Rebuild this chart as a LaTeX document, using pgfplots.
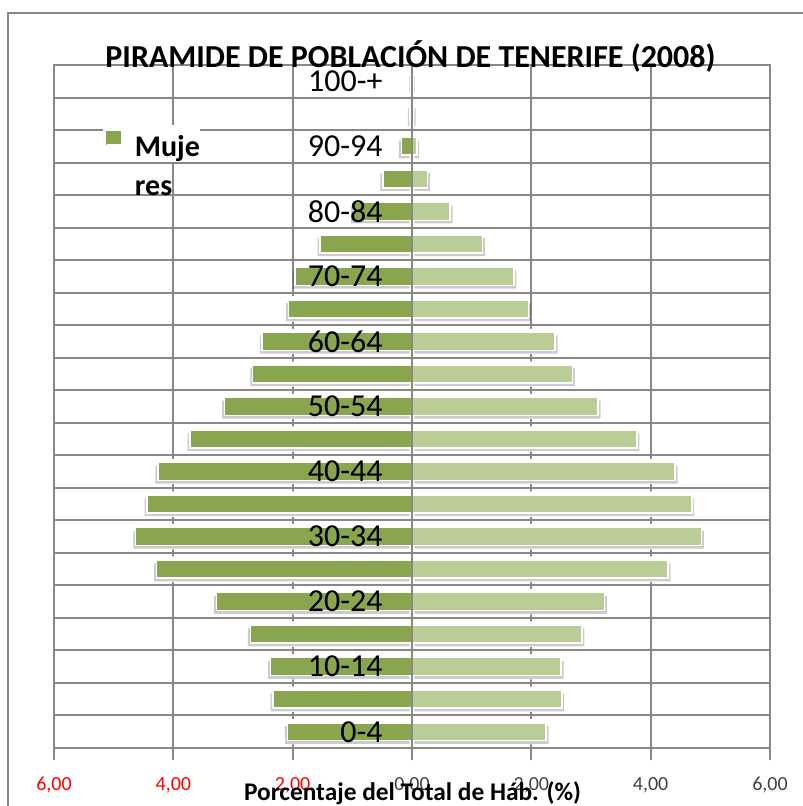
\documentclass[border=0pt]{standalone}
\usepackage{pgfplots}
\pgfplotsset{compat=1.18}
\usepackage{pgfplotstable}
\usepackage{fontspec}
\setmainfont{Carlito}
\definecolor{muj}{RGB}{137,165,78}
\definecolor{hom}{RGB}{186,205,150}
\definecolor{gridc}{RGB}{136,136,136}

\pgfplotstableread{
age muj hom
0 -2.09 2.25
1 -2.33 2.51
2 -2.37 2.50
3 -2.71 2.85
4 -3.28 3.23
5 -4.28 4.29
6 -4.63 4.85
7 -4.44 4.69
8 -4.26 4.41
9 -3.72 3.77
10 -3.14 3.12
11 -2.67 2.69
12 -2.51 2.40
13 -2.07 1.95
14 -1.96 1.71
15 -1.54 1.18
16 -0.98 0.64
17 -0.49 0.26
18 -0.18 0.08
19 -0.03 0.02
20 -0.01 0.01
}\pyr

\begin{document}
\begin{tikzpicture}
\useasboundingbox (0,0) rectangle (401pt,403pt);
\draw[gridc, line width=1.25pt] (4pt,-2pt) -- (4pt,396.5pt) -- (403pt,396.5pt);
\begin{axis}[
  at={(27pt,29pt)}, anchor=south west,
  scale only axis, width=358pt, height=341.5pt,
  xmin=-6, xmax=6, ymin=-0.5, ymax=20.5,
  xtick={-6,-4,...,6},
  xticklabels={{\textcolor{red}{6,00}},{\textcolor{red}{4,00}},{\textcolor{red}{2,00}},{0,00},{2,00},{4,00},{6,00}},
  ytick={-0.5,0.5,...,20.5}, yticklabels={},
  xmajorgrids, ymajorgrids,
  grid style={gridc, line width=1pt},
  axis line style={gridc, line width=1pt},
  xtick pos=bottom,
  tick align=outside,
  major tick length=6pt,
  x tick style={gridc, line width=1pt},
  y tick style={draw=none},
  xticklabel style={font=\fontsize{10}{12}\selectfont, text=black!75, yshift=-5pt},
  legend cell align=left,
  legend style={at={(0.0726,0.912)}, anchor=north west, draw=none, fill=none,
    inner sep=0pt, font=\fontsize{15}{19.5}\selectfont\bfseries},
]
% halo (hides vertical grid behind bars)
\addplot[xbar, bar shift=0pt, bar width=0.78, fill=white, draw=none, forget plot] table[x=muj, y=age]{\pyr};
\addplot[xbar, bar shift=0pt, bar width=0.78, fill=white, draw=none, forget plot] table[x=hom, y=age]{\pyr};
% shadows
\addplot[xbar, bar shift=-1.6pt, bar width=0.55, fill=black, fill opacity=0.2, draw=none, xshift=-1.2pt, forget plot] table[x=muj, y=age]{\pyr};
\addplot[xbar, bar shift=-1.6pt, bar width=0.55, fill=black, fill opacity=0.2, draw=none, xshift=1.2pt, forget plot] table[x=hom, y=age]{\pyr};
% bars
\addplot[xbar, bar shift=0pt, bar width=0.55, fill=hom, draw=white, line width=0.75pt, forget plot] table[x=hom, y=age]{\pyr};
\addplot[xbar, bar shift=0pt, bar width=0.55, fill=muj, draw=white, line width=0.75pt,
  legend image code/.code={\fill[muj] (0pt,0pt) rectangle (6.5pt,6.5pt); \path (0pt,0pt) -- (11.5pt,0pt);}] table[x=muj, y=age]{\pyr};
\addlegendentry{\begin{tabular}[t]{@{}l@{}}Muje\\res\end{tabular}}
\draw[gridc, line width=1pt] (axis cs:0,-0.5) -- (axis cs:0,20.5);
\fill[white] (rel axis cs:0.0684,0.858) rectangle (rel axis cs:0.204,0.912);
\end{axis}
% category labels on top of the bars
\begin{axis}[
  at={(27pt,29pt)}, anchor=south west,
  scale only axis, width=358pt, height=341.5pt,
  xmin=-6, xmax=6, ymin=-0.5, ymax=20.5,
  hide x axis,
  axis y line*=left,
  y axis line style={draw=none},
  ytick style={draw=none},
  ytick={0,2,...,20},
  yticklabels={0-4,10-14,20-24,30-34,40-44,50-54,60-64,70-74,80-84,90-94,100-+},
  yticklabel style={anchor=east, inner sep=0pt, xshift=164.5pt, font=\fontsize{16}{18}\selectfont, text=black},
]
\end{axis}
\node[anchor=base, font=\fontsize{16}{18}\selectfont\bfseries] at (205.25pt,369pt) {PIRAMIDE DE POBLACIÓN DE TENERIFE (2008)};
\node[anchor=base, font=\fontsize{12.7}{14}\selectfont\bfseries] at (206.25pt,2.5pt) {Porcentaje del Total de Háb. (\%)};
\end{tikzpicture}
\end{document}
